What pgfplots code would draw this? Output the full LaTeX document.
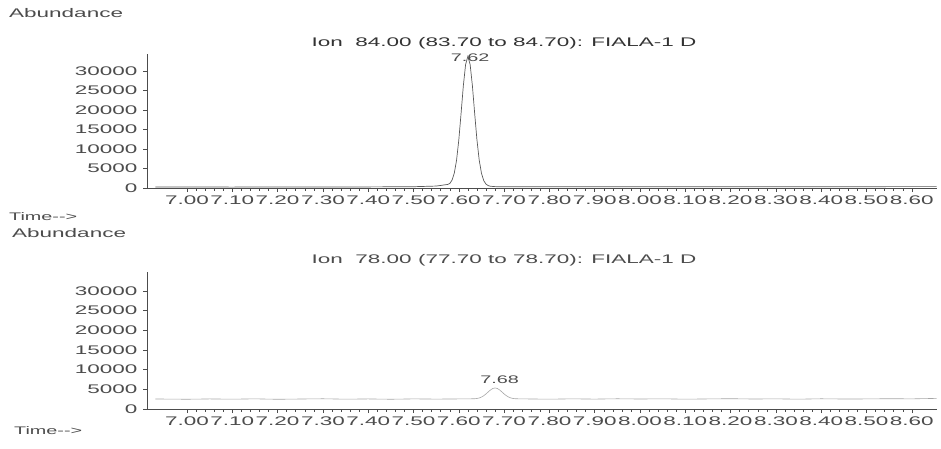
\documentclass[border=0pt]{standalone}
\usepackage{pgfplots}
\pgfplotsset{compat=1.18}
\usepackage{fontspec}
\setmainfont{Liberation Sans}[FakeStretch=1.8]
\definecolor{ink}{gray}{0.3}
\definecolor{lineink}{gray}{0.35}
\pgfplotsset{
  chrom/.style={
    scale only axis, width=790pt, height=134pt,
    xmin=6.9117, xmax=8.6556, ymin=0, ymax=34400,
    axis x line*=bottom, axis y line*=left,
    axis line style={-, ink, line width=0.6pt},
    xtick={7.0,7.1,7.2,7.3,7.4,7.5,7.6,7.7,7.8,7.9,8.0,8.1,8.2,8.3,8.4,8.5,8.6},
    minor x tick num=4,
    ytick={0,5000,10000,15000,20000,25000,30000},
    tick align=outside, major tick length=4pt, minor tick length=2.5pt,
    tick style={ink, line width=0.5pt},
    /pgf/number format/assume math mode=true,
    xticklabel style={/pgf/number format/.cd, fixed, fixed zerofill, precision=2, /tikz/.cd, font=\fontsize{12.5}{14}\selectfont, text=ink, inner sep=0pt, yshift=-4pt},
    yticklabel style={/pgf/number format/.cd, 1000 sep={}, /tikz/.cd, font=\fontsize{12.5}{14}\selectfont, text=ink, xshift=-2pt},
    scaled y ticks=false,
    clip=false,
  }
}
\begin{document}
\begin{tikzpicture}[x=1pt,y=1pt]
\path[use as bounding box] (0,0) rectangle (941,448);
\node[anchor=west, text=ink, font=\fontsize{12.5}{14}\selectfont, inner sep=0pt] at (9,435) {Abundance};
\node[anchor=west, text=ink, font=\fontsize{11}{13}\selectfont, inner sep=0pt] at (9,231) {Time{-}{-}>};
\node[anchor=west, text=ink, font=\fontsize{12.5}{14}\selectfont, inner sep=0pt] at (12,215) {Abundance};
\node[anchor=west, text=ink, font=\fontsize{11}{13}\selectfont, inner sep=0pt] at (14,17) {Time{-}{-}>};

\begin{axis}[chrom, at={(147pt,260pt)}, anchor=south west]
\addplot[lineink, line width=0.7pt] coordinates {
(6.93,250) (7.0,250) (7.1,230) (7.2,260) (7.3,240) (7.4,280) (7.5,330)
(7.55,500) (7.56,650) (7.565,750) (7.570,830) (7.575,900) (7.580,1150)
(7.585,2000) (7.590,3800) (7.595,7100) (7.600,12350) (7.605,19150)
(7.610,26250) (7.615,31700) (7.620,33800) (7.625,31700) (7.630,26250)
(7.635,19150) (7.640,12400) (7.645,7200) (7.650,3800) (7.655,1900)
(7.660,1000) (7.665,600) (7.670,450) (7.68,350) (7.7,320) (7.8,300)
(8.0,320) (8.2,330) (8.4,340) (8.6,350) (8.655,350)
};
\node[text=ink, font=\fontsize{11}{13}\selectfont, inner sep=0pt] at (axis cs:7.625,33400) {7.62};
\node[text=black!80, font=\fontsize{12.5}{14}\selectfont, inner sep=0pt] at (axis cs:7.7,37200) {Ion\ \ 84.00 (83.70 to 84.70): FIALA-1 D};
\end{axis}

\begin{axis}[chrom, height=137pt, ymax=34830, at={(147pt,39pt)}, anchor=south west]
\addplot[gray!70, line width=0.6pt] coordinates {
(6.93,2550) (7.0,2480) (7.05,2560) (7.1,2500) (7.15,2580) (7.2,2470) (7.25,2540)
(7.3,2600) (7.35,2500) (7.4,2560) (7.45,2480) (7.5,2570) (7.55,2520) (7.6,2560)
(7.635,2604) (7.640,2673) (7.645,2806) (7.650,3034) (7.655,3376) (7.660,3832)
(7.665,4354) (7.670,4854) (7.675,5216) (7.680,5350) (7.685,5216) (7.690,4854)
(7.695,4354) (7.700,3832) (7.705,3376) (7.710,3034) (7.715,2806) (7.720,2673)
(7.725,2604) (7.75,2560) (7.8,2500) (7.85,2580) (7.9,2520) (7.95,2600) (8.0,2540)
(8.05,2590) (8.1,2500) (8.15,2560) (8.2,2620) (8.25,2540) (8.3,2580) (8.35,2500)
(8.4,2600) (8.45,2540) (8.5,2560) (8.55,2620) (8.6,2580) (8.655,2700)
};
\node[text=ink, font=\fontsize{11}{13}\selectfont, inner sep=0pt] at (axis cs:7.69,7550) {7.68};
\node[text=ink, font=\fontsize{12.5}{14}\selectfont, inner sep=0pt] at (axis cs:7.7,37700) {Ion\ \ 78.00 (77.70 to 78.70): FIALA-1 D};
\end{axis}
\end{tikzpicture}
\end{document}
